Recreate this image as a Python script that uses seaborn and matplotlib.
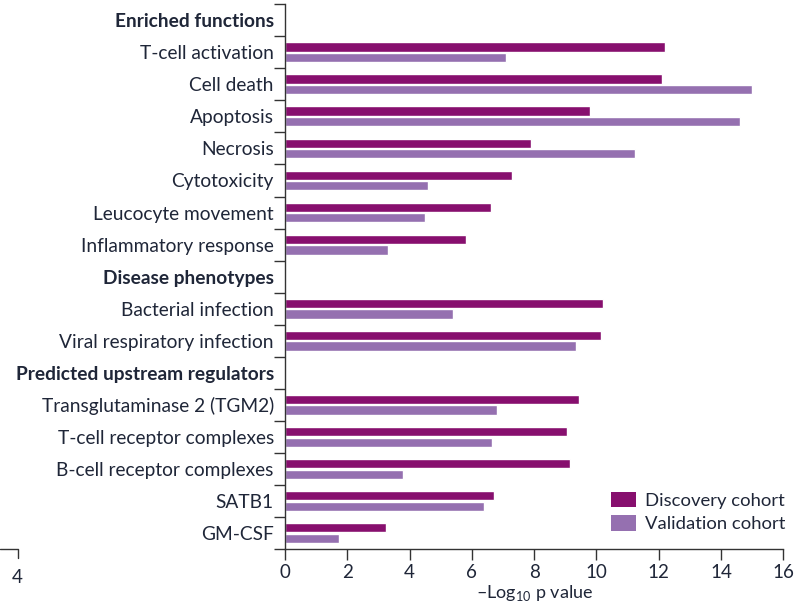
import matplotlib
matplotlib.use('Agg')
import matplotlib.pyplot as plt
from matplotlib.lines import Line2D
from matplotlib.patches import Patch
import numpy as np
import pandas as pd
import seaborn as sns

# Kategoriler (başlık satırları dahil)
headers = ['Enriched functions', 'Disease phenotypes', 'Predicted upstream regulators']
rows = ['Enriched functions',
        'T-cell activation', 'Cell death', 'Apoptosis', 'Necrosis', 'Cytotoxicity',
        'Leucocyte movement', 'Inflammatory response',
        'Disease phenotypes',
        'Bacterial infection', 'Viral respiratory infection',
        'Predicted upstream regulators',
        'Transglutaminase 2 (TGM2)', 'T-cell receptor complexes',
        'B-cell receptor complexes', 'SATB1', 'GM-CSF']

terms = ['T-cell activation', 'Cell death', 'Apoptosis', 'Necrosis', 'Cytotoxicity',
         'Leucocyte movement', 'Inflammatory response',
         'Bacterial infection', 'Viral respiratory infection',
         'Transglutaminase 2 (TGM2)', 'T-cell receptor complexes',
         'B-cell receptor complexes', 'SATB1', 'GM-CSF']
discovery = [12.2, 12.1, 9.8, 7.9, 7.3, 6.6, 5.8, 10.2, 10.15, 9.45, 9.05, 9.15, 6.7, 3.25]
validation = [7.1, 15.0, 14.6, 11.25, 4.6, 4.5, 3.3, 5.4, 9.35, 6.8, 6.65, 3.8, 6.4, 1.75]

cohorts = ['Discovery cohort', 'Validation cohort']
colors = ['#870f6e', '#9570b0']
text_color = '#1f2638'

df = pd.DataFrame({
    'term': terms * 2,
    'value': discovery + validation,
    'cohort': [cohorts[0]] * len(terms) + [cohorts[1]] * len(terms),
})

sns.set_theme(style='white')
plt.rcParams['font.family'] = ['Lato', 'DejaVu Sans']
plt.rcParams['mathtext.fontset'] = 'custom'
plt.rcParams['mathtext.rm'] = 'Lato'

fig = plt.figure(figsize=(7.96, 6.06), dpi=100)
ax = fig.add_axes([0.358, 0.094, 0.626, 0.899])

sns.barplot(data=df, y='term', x='value', hue='cohort', order=rows,
            hue_order=cohorts, palette=colors, orient='h',
            width=0.66, gap=0.12, saturation=1, legend=False, ax=ax)

ax.set_xlim(0, 16)
ax.set_ylim(len(rows) - 0.5, -0.5)
ax.set_xticks(np.arange(0, 17, 2))
ax.set_xlabel(r'–Log$_{\mathregular{10}}$ p value', fontsize=13, color=text_color, labelpad=1)
ax.set_ylabel('')

# Satır sınırlarında küçük tick çizgileri
ax.set_yticks(np.arange(-0.5, len(rows), 1.0), minor=True)
ax.tick_params(axis='y', which='major', length=0, pad=8, labelsize=13.8, labelcolor=text_color)
ax.tick_params(axis='y', which='minor', length=8, width=1, color='#333333', direction='out', left=True)
ax.tick_params(axis='x', which='major', length=8, width=1, color='#333333', direction='out',
               bottom=True, labelsize=13.5, labelcolor=text_color, pad=3)

for lbl in ax.get_yticklabels():
    if lbl.get_text() in headers:
        lbl.set_fontweight('bold')

for side in ['top', 'right']:
    ax.spines[side].set_visible(False)
for side in ['left', 'bottom']:
    ax.spines[side].set_color('#333333')
    ax.spines[side].set_linewidth(1)

handles = [Patch(facecolor=c, edgecolor='none') for c in colors]
ax.legend(handles, cohorts, loc='lower right', bbox_to_anchor=(1.037, 0.0), frameon=False,
          fontsize=13.3, handlelength=1.35, handleheight=0.9, handletextpad=0.45,
          labelspacing=0.35, labelcolor=text_color)

# Soldaki kesilmiş komşu panelin ekseni
fig.add_artist(Line2D([0, 0.022, 0.022], [0.094, 0.094, 0.080], color='#333333', lw=1))
fig.text(0.022, 0.038, '4', ha='center', fontsize=13.5, color=text_color)

plt.savefig('out.png', dpi=100)
